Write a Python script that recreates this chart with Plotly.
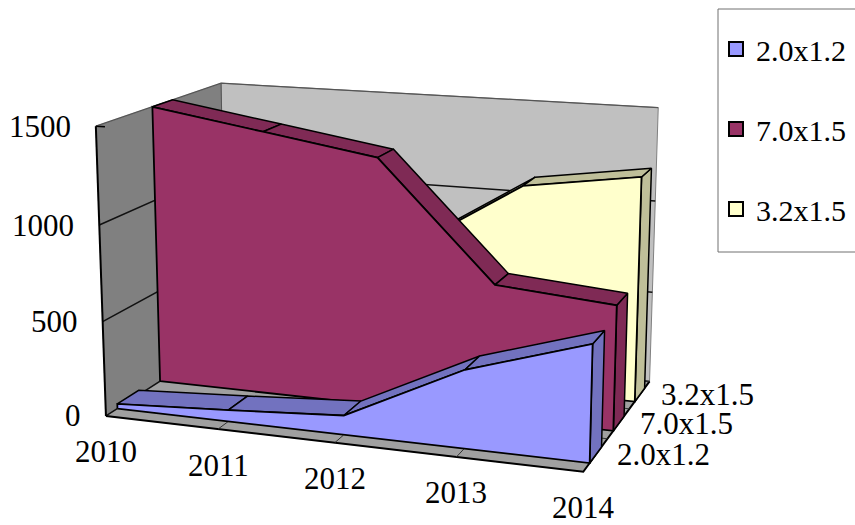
import numpy as np
import plotly.graph_objects as go

# ---------- data ----------
years = ["2010", "2011", "2012", "2013", "2014"]
series_names = ["2.0x1.2", "7.0x1.5", "3.2x1.5"]
values_a = [25, 60, 100, 400, 590]
values_b = [1500, 1405, 1310, 700, 650]
values_c = [200, 400, 730, 1110, 1200]
value_ticks = [0, 500, 1000, 1500]
z_max = 1500

face_colors = ["#9999FF", "#993366", "#FFFFCC"]
edge_colors = ["#7272BF", "#7F2A55", "#BFBF99"]
all_values = [values_a, values_b, values_c]

# ---------- view of the box: where its corners fall on the page ----------
box_model = [(0,0,0),(1,0,0),(1,1,0),(0,1,0),(0,0,1),(0,1,1),(1,1,1)]
box_page = [(107,415),(583,473),(650,380),(225,340),(95,126),(222,83),(658,108)]
rows = []
for (X,Y,Z),(u,v) in zip(box_model, box_page):
    rows.append([X,Y,Z,1,0,0,0,0,-u*X,-u*Y,-u*Z,-u])
    rows.append([0,0,0,0,X,Y,Z,1,-v*X,-v*Y,-v*Z,-v])
P = np.linalg.svd(np.array(rows, float))[2][-1].reshape(3,4)

def proj(X, Y, Z):
    h = P @ np.array([X, Y, Z, 1.0])
    return h[0]/h[2], h[1]/h[2]

def poly(points):
    pts = [proj(*p) for p in points]
    return [p[0] for p in pts], [p[1] for p in pts]

fig = go.Figure()

def add_fill(points, color, line_color="#000000", width=1.5):
    x, y = poly(points + [points[0]])
    fig.add_trace(go.Scatter(x=x, y=y, mode="lines", fill="toself", fillcolor=color,
                             line=dict(color=line_color, width=width), showlegend=False,
                             hoverinfo="skip"))

def add_line(points, color="#000000", width=1.5):
    x, y = poly(points)
    fig.add_trace(go.Scatter(x=x, y=y, mode="lines", line=dict(color=color, width=width),
                             showlegend=False, hoverinfo="skip"))

# walls and floor
add_fill([(0,0,0),(0,1,0),(0,1,1),(0,0,1)], "#808080", "#808080", 0.5)
add_fill([(0,1,0),(1,1,0),(1,1,1),(0,1,1)], "#C0C0C0", "#808080", 1)
add_fill([(0,0,0),(1,0,0),(1,1,0),(0,1,0)], "#A0A0A0", "#808080", 0.5)

# grid
for v in value_ticks[1:-1]:
    z = v / z_max
    add_line([(0,0,z),(0,1,z),(1,1,z)], "#111111", 1.5)
add_line([(0,0,0),(0,1,0),(1,1,0)], "#111111", 1.5)
add_line([(0,0,1),(0,1,1),(1,1,1)], "#555555", 1.2)
add_line([(0,1,0),(0,1,1)], "#555555", 1)

# axes lines and ticks
add_line([(0,0,0),(0,0,1)], "#000000", 2)
add_line([(0,0,1),(0.02,0,1)], "#000000", 1.5)
add_line([(0,0,0),(1,0,0),(1,1,0)], "#000000", 2)
for i in range(1, len(years)-1):
    X = i / (len(years)-1)
    add_line([(X,0,0),(X,0.08,0)], "#333333", 1)
for j in range(1, 4):
    Y = j / 3
    add_line([(1,Y,0),(0.975,Y,0)], "#333333", 1)

# series, back to front
gap = 0.085
for s in [2, 1, 0]:
    vals = all_values[s]
    y0 = s/3 + gap
    y1 = (s+1)/3 - gap
    n = len(vals)
    Xs = [i/(n-1) for i in range(n)]
    Zs = [v/z_max for v in vals]
    add_fill([(1,y0,0),(1,y1,0),(1,y1,Zs[-1]),(1,y0,Zs[-1])], edge_colors[s])
    for i in range(n-1):
        add_fill([(Xs[i],y0,Zs[i]),(Xs[i+1],y0,Zs[i+1]),(Xs[i+1],y1,Zs[i+1]),(Xs[i],y1,Zs[i])],
                 edge_colors[s])
    add_fill([(Xs[0],y0,0)] + [(X,y0,Z) for X,Z in zip(Xs,Zs)] + [(1,y0,0)], face_colors[s], "#000000", 1.8)

# legend entries
for s in range(3):
    fig.add_trace(go.Scatter(x=[None], y=[None], mode="markers", name=series_names[s],
                             legendgroup=series_names[s],
                             marker=dict(symbol="square", size=14, color=face_colors[s],
                                         line=dict(color="#000000", width=2))))

FONT = "Liberation Serif"
annotations = []
for v in value_ticks:
    px, py = proj(0, 0, v/z_max)
    annotations.append(dict(x=px-23, y=py, text=str(v), xanchor="right", yanchor="middle"))
for i, yr in enumerate(years):
    px, py = proj(i/(len(years)-1), 0, 0)
    annotations.append(dict(x=px, y=py+36, text=yr, xanchor="center", yanchor="middle"))
for j, nm in enumerate(series_names):
    px, py = proj(1, (j+0.5)/3, 0)
    annotations.append(dict(x=px+19, y=py, text=nm, xanchor="left", yanchor="middle"))
for a in annotations:
    a.update(xref="x", yref="y", showarrow=False, font=dict(family=FONT, size=31, color="#000000"))

fig.update_layout(
    width=855, height=525, autosize=False,
    margin=dict(l=0, r=0, t=0, b=0),
    paper_bgcolor="#FFFFFF", plot_bgcolor="#FFFFFF",
    xaxis=dict(range=[0,855], visible=False, fixedrange=True),
    yaxis=dict(range=[525,0], visible=False, fixedrange=True),
    annotations=annotations,
    shapes=[dict(type="rect", xref="x", yref="y", x0=718, x1=870, y0=9, y1=252,
                 line=dict(color="#707070", width=1), fillcolor="rgba(0,0,0,0)", layer="below")],
    legend=dict(x=716/855, y=1-23/525, xanchor="left", yanchor="top",
                bgcolor="rgba(0,0,0,0)", borderwidth=0,
                font=dict(family=FONT, size=30, color="#000000"),
                tracegroupgap=38, itemsizing="trace", traceorder="grouped"),
)
fig.write_html("out.html", config={"displayModeBar": False},
               post_script="document.body.style.margin='0';document.documentElement.style.overflow='hidden';")
